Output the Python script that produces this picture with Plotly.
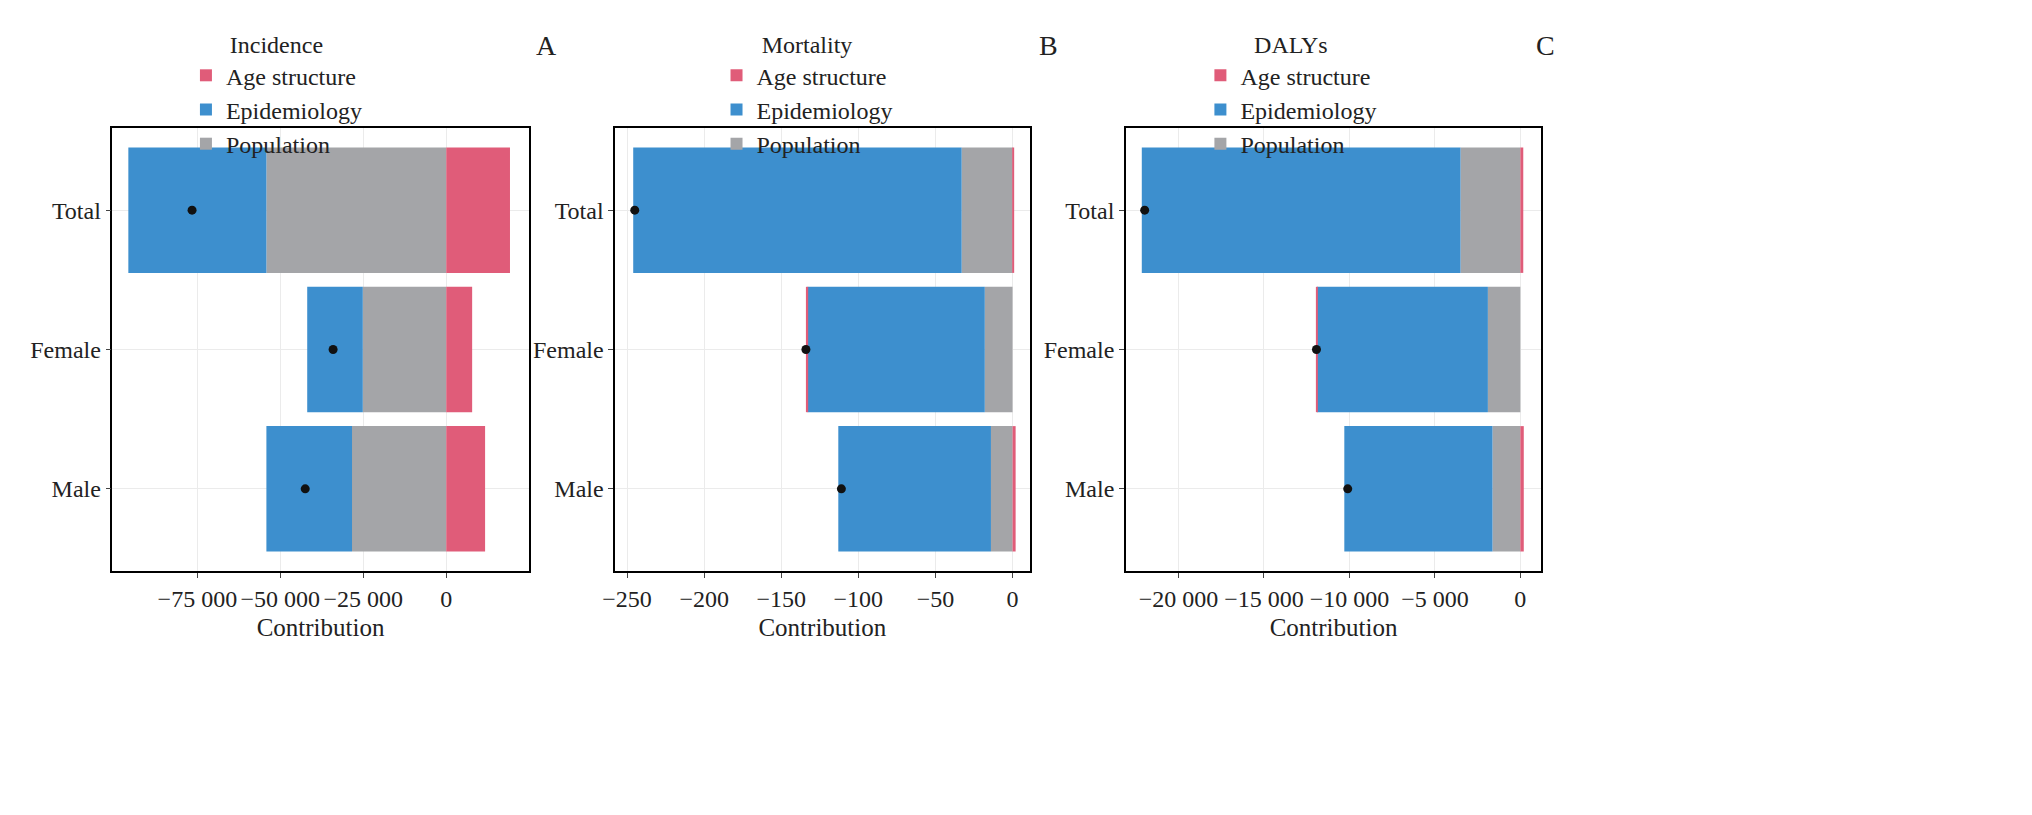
import plotly.graph_objects as go

categories = ['Total', 'Female', 'Male']
panels = ['Incidence', 'Mortality', 'DALYs']
letters = ['A', 'B', 'C']

age_structure = [[19200, 7800, 11700], [1, -1, 2], [170, -30, 200]]
epidemiology = [[-41600, -16750, -25800], [-213, -115, -99], [-18650, -10000, -8670]]
population = [[-54200, -25150, -28400], [-33, -18, -14], [-3500, -1900, -1630]]
total_change = [[-76600, -34100, -42500], [-245, -134, -111], [-21980, -11930, -10100]]

tick_vals = [[-75000, -50000, -25000, 0], [-250, -200, -150, -100, -50, 0],
             [-20000, -15000, -10000, -5000, 0]]
tick_text = [['−75 000', '−50 000', '−25 000', '0'], ['−250', '−200', '−150', '−100', '−50', '0'],
             ['−20 000', '−15 000', '−10 000', '−5 000', '0']]
x_ranges = [[-100600, 24850], [-257.7, 11], [-23080, 1220]]

W, H = 2032, 815
domains = [(92, 511), (598, 1015), (1112, 1530)]
colors = {'Age structure': '#E05C79', 'Epidemiology': '#3D8FCE', 'Population': '#A4A5A8'}
font = 'Liberation Serif'

fig = go.Figure()
for i in range(3):
    xa = 'x' if i == 0 else 'x%d' % (i + 1)
    ya = 'y' if i == 0 else 'y%d' % (i + 1)
    lg = 'legend' if i == 0 else 'legend%d' % (i + 1)
    series = [('Population', population[i], 3), ('Epidemiology', epidemiology[i], 2),
              ('Age structure', age_structure[i], 1)]
    for name, vals, rank in series:
        fig.add_trace(go.Bar(y=categories, x=vals, orientation='h', name=name,
                             marker=dict(color=colors[name], line=dict(width=0)),
                             width=0.9, xaxis=xa, yaxis=ya, legend=lg, legendrank=rank))
    fig.add_trace(go.Scatter(y=categories, x=total_change[i], mode='markers',
                             marker=dict(color='#111111', size=9), showlegend=False,
                             xaxis=xa, yaxis=ya))
    x0, x1 = domains[i]
    ax = dict(domain=[x0 / W, x1 / W], range=x_ranges[i], tickvals=tick_vals[i],
              ticktext=tick_text[i], showline=True, mirror=True, linecolor='black',
              linewidth=1.5, ticks='outside', ticklen=5, gridcolor='#EBEBEB', zeroline=False,
              title=dict(text='Contribution', font=dict(size=25), standoff=8), anchor=ya,
              tickfont=dict(size=24))
    ay = dict(domain=[1 - 563 / H, 1 - 120 / H], categoryorder='array',
              categoryarray=['Male', 'Female', 'Total'], range=[-0.59, 2.59],
              showline=True, mirror=True, linecolor='black', linewidth=1.5,
              ticks='outside', ticklen=5, gridcolor='#EBEBEB', anchor=xa,
              tickfont=dict(size=24))
    fig.update_layout(**{('xaxis' if i == 0 else 'xaxis%d' % (i + 1)): ax,
                         ('yaxis' if i == 0 else 'yaxis%d' % (i + 1)): ay})
    legend_x = [166, 700, 1187][i]
    fig.update_layout(**{lg: dict(x=legend_x / W, y=1 - 14 / H, xanchor='left', yanchor='top',
                                  title=dict(text=panels[i], side='top center', font=dict(size=24)),
                                  font=dict(size=24), tracegroupgap=0, itemwidth=30,
                                  itemsizing='constant', bgcolor='rgba(0,0,0,0)')})
    fig.add_annotation(text=letters[i], x=[516, 1034, 1546][i] / W, y=1 - 20 / H,
                       xref='paper', yref='paper', showarrow=False, font=dict(size=28))

fig.update_layout(width=W, height=H, barmode='relative', plot_bgcolor='white',
                  paper_bgcolor='white', margin=dict(l=0, r=0, t=0, b=0),
                  font=dict(family=font, color='#222222'))
fig.write_html('out.html')
